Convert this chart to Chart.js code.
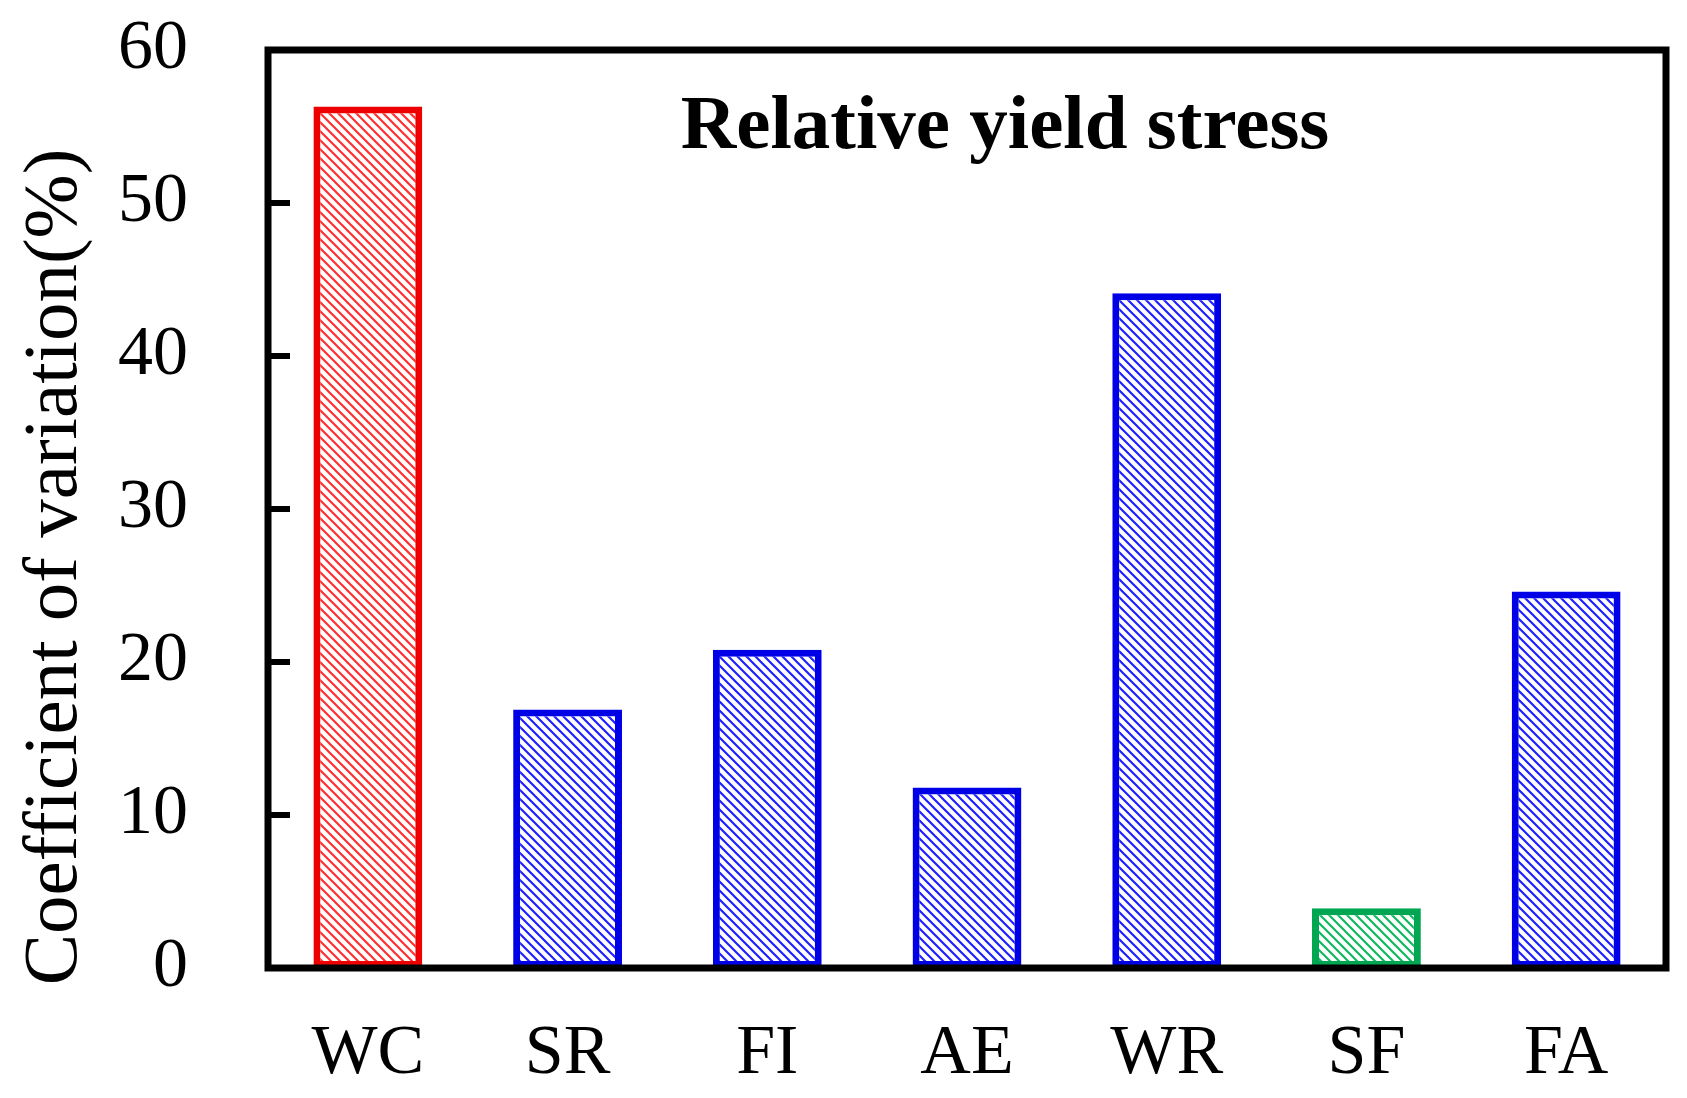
<!DOCTYPE html>
<html>
<head>
<meta charset="utf-8">
<script src="https://cdn.jsdelivr.net/npm/chart.js@4"></script>
<style>
    html, body { margin: 0; padding: 0; background: #fff; }
    #wrap { width: 1687px; height: 1098px; position: relative; }
</style>
</head>
<body>
<div id="wrap"><canvas id="cvChart"></canvas></div>
<script>
// ═══════════════ DATA ═══════════════

const categories = ['WC', 'SR', 'FI', 'AE', 'WR', 'SF', 'FA'];
const cvValues = [56.3, 16.9, 20.8, 11.8, 44.1, 3.9, 24.6];
const barColors = ['#ee0000', '#0000e6', '#0000e6', '#0000e6', '#0000e6', '#00a651', '#0000e6'];
const hatchColors = ['#ff3030', '#2020ff', '#2020ff', '#2020ff', '#2020ff', '#10b860', '#2020ff'];
const yTicks = [0, 10, 20, 30, 40, 50, 60];
const chartTitle = 'Relative yield stress';
const yTitle = 'Coefficient of variation(%)';

const SERIF = '"Liberation Serif", "Times New Roman", serif';

// Diagonal hatch fill, lines running top-left to bottom-right
function makeHatch(color) {
    const n = 9;
    const tile = document.createElement('canvas');
    tile.width = n;
    tile.height = n;
    const g = tile.getContext('2d');
    g.fillStyle = '#ffffff';
    g.fillRect(0, 0, n, n);
    g.strokeStyle = color;
    g.lineWidth = 2.2;
    g.beginPath();
    g.moveTo(-1, -1); g.lineTo(n + 1, n + 1);
    g.moveTo(-1, n - 1); g.lineTo(1, n + 1);
    g.moveTo(n - 1, -1); g.lineTo(n + 1, 1);
    g.stroke();
    return g.createPattern(tile, 'repeat');
}

// Frame, inward ticks and the text inside/left of the plot
const framePlugin = {
    id: 'frame',
    afterDatasetsDraw(chart) {
        const { ctx, chartArea: a, scales } = chart;
        const y = scales.y;
        ctx.save();
        ctx.strokeStyle = '#000';
        ctx.lineWidth = 7;
        ctx.lineJoin = 'miter';
        ctx.strokeRect(a.left, a.top, a.right - a.left, a.bottom - a.top);

        ctx.lineWidth = 6;
        ctx.beginPath();
        yTicks.slice(1, -1).forEach(v => {
            const py = y.getPixelForValue(v);
            ctx.moveTo(a.left, py);
            ctx.lineTo(a.left + 22, py);
        });
        ctx.stroke();

        ctx.fillStyle = '#000';
        ctx.font = 'bold 77px ' + SERIF;
        ctx.textAlign = 'center';
        ctx.textBaseline = 'alphabetic';
        ctx.fillText(chartTitle, 1005, 148);

        ctx.translate(76, 567);
        ctx.rotate(-Math.PI / 2);
        ctx.font = '77px ' + SERIF;
        ctx.fillText(yTitle, 0, 0);
        ctx.restore();
    }
};

new Chart(document.getElementById('cvChart').getContext('2d'), {
    type: 'bar',
    data: {
        labels: categories,
        datasets: [{
            data: cvValues,
            backgroundColor: hatchColors.map(makeHatch),
            borderColor: barColors,
            borderWidth: 7,
            borderSkipped: false,
            barPercentage: 0.545,
            categoryPercentage: 1.0
        }]
    },
    options: {
        responsive: true,
        maintainAspectRatio: false,
        animation: false,
        layout: { padding: { top: 50, right: 21, left: 0, bottom: 0 } },
        plugins: {
            legend: { display: false },
            tooltip: { enabled: false }
        },
        scales: {
            x: {
                grid: { display: false, drawTicks: false },
                border: { display: false },
                ticks: {
                    color: '#000',
                    padding: 45,
                    font: { family: SERIF, size: 70 }
                },
                afterFit: s => { s.height = 130; s.paddingLeft = 0; s.paddingRight = 0; }
            },
            y: {
                min: 0,
                max: 60,
                grid: { display: false, drawTicks: false },
                border: { display: false },
                afterBuildTicks: s => { s.ticks = yTicks.map(v => ({ value: v })); },
                ticks: {
                    color: '#000',
                    padding: 80,
                    font: { family: SERIF, size: 70 }
                },
                afterFit: s => { s.width = 268; s.paddingTop = 0; s.paddingBottom = 0; }
            }
        }
    },
    plugins: [framePlugin]
});
</script>
</body>
</html>
